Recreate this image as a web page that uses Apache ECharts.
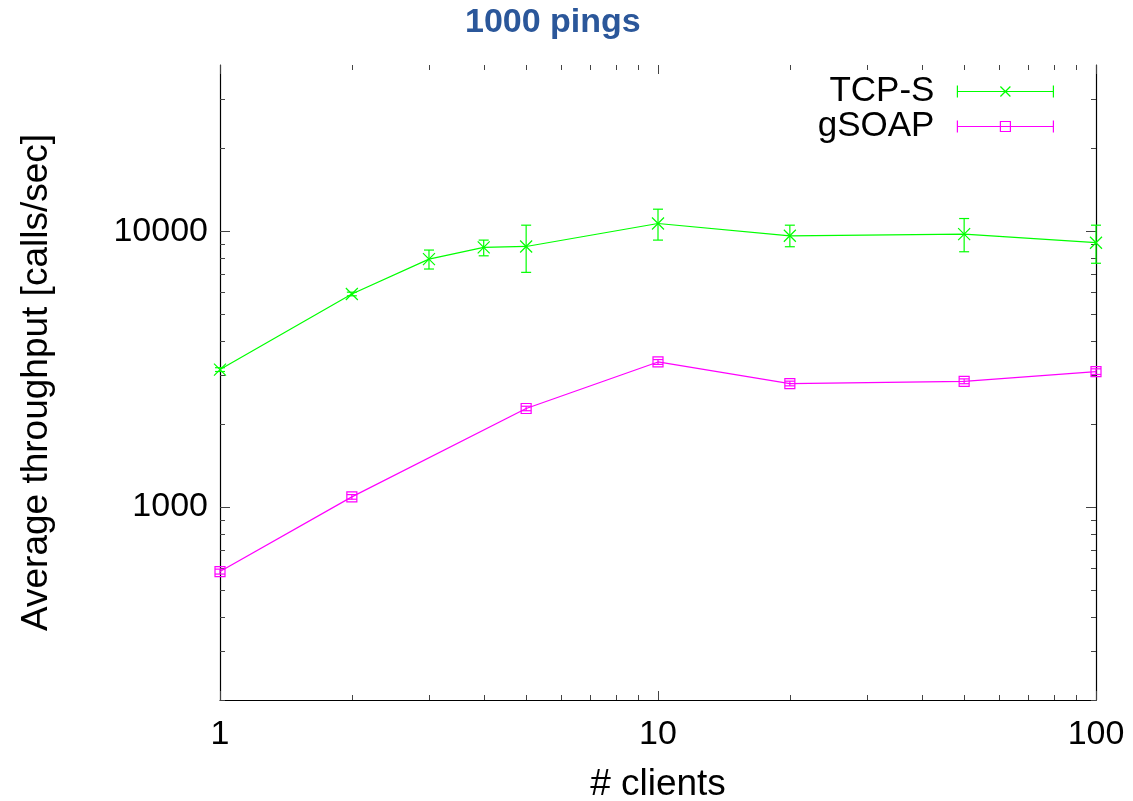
<!DOCTYPE html>
<html><head><meta charset="utf-8">
<script src="https://cdn.jsdelivr.net/npm/echarts@6/dist/echarts.min.js"></script>
<style>html,body{margin:0;padding:0;background:#fff}#c{width:1133px;height:801px}</style>
</head><body><div id="c"></div>
<script>
// ---- data ----
const clientsTcp = [1, 2, 3, 4, 5, 10, 20, 50, 100];
const tcpMean = [3150, 5920, 7920, 8730, 8800, 10660, 9620, 9750, 9080];
const tcpLow  = [3100, 5830, 7290, 8140, 7090, 9280, 8780, 8420, 7650];
const tcpHigh = [3200, 6010, 8540, 9280, 10510, 12010, 10510, 11110, 10510];
const clientsSoap = [1, 2, 5, 10, 20, 50, 100];
const soapMean = [584, 1089, 2277, 3357, 2804, 2857, 3096];
const soapLow  = [572, 1068, 2235, 3290, 2750, 2800, 3025];
const soapHigh = [596, 1110, 2320, 3425, 2860, 2915, 3170];
const xMajorTicks = [1, 10, 100];
const xMinorTicks = [2, 3, 4, 5, 6, 7, 8, 9, 20, 30, 40, 50, 60, 70, 80, 90];
const yMajorTicks = [1000, 10000];
const yMinorTicks = [200, 300, 400, 500, 600, 700, 800, 900, 2000, 3000, 4000, 5000, 6000, 7000, 8000, 9000, 20000, 30000];
const seriesNames = ['TCP-S', 'gSOAP'];

const FONT = "'Liberation Sans', Arial, sans-serif";
const GREEN = '#00ff00', MAGENTA = '#ff00ff';
const X_MIN = 1, X_MAX = 100, Y_MIN = 200, Y_MAX = 40000;

const tickData = [];
yMajorTicks.forEach(v => tickData.push([X_MIN, v, 0]));
yMinorTicks.forEach(v => tickData.push([X_MIN, v, 1]));
xMajorTicks.forEach(v => tickData.push([v, 1000, 2]));
xMinorTicks.forEach(v => tickData.push([v, 1000, 3]));

function zip(xs, a, b, c) { return xs.map((x, i) => c ? [x, a[i], b[i], c[i]] : [x, a[i]]); }

function errRender(color) {
  return function (params, api) {
    const x = api.value(0);
    const lo = api.coord([x, api.value(1)]);
    const hi = api.coord([x, api.value(2)]);
    const w = 5;
    const st = { stroke: color, lineWidth: 1.2 };
    return { type: 'group', children: [
      { type: 'line', shape: { x1: lo[0], y1: lo[1], x2: hi[0], y2: hi[1] }, style: st },
      { type: 'line', shape: { x1: lo[0] - w, y1: lo[1], x2: lo[0] + w, y2: lo[1] }, style: st },
      { type: 'line', shape: { x1: hi[0] - w, y1: hi[1], x2: hi[0] + w, y2: hi[1] }, style: st }
    ]};
  };
}

function tickRender(params, api) {
  const cs = params.coordSys;
  const kind = api.value(2);
  const st = { stroke: '#444', lineWidth: 1 };
  if (kind < 2) {
    const y = Math.round(api.coord([X_MIN, api.value(1)])[1]) + 0.5;
    const len = kind === 0 ? 10 : 5;
    return { type: 'group', children: [
      { type: 'line', shape: { x1: cs.x, y1: y, x2: cs.x + len, y2: y }, style: st },
      { type: 'line', shape: { x1: cs.x + cs.width - len, y1: y, x2: cs.x + cs.width, y2: y }, style: st }
    ]};
  } else {
    const x = Math.round(api.coord([api.value(0), 1000])[0]) + 0.5;
    const len = kind === 2 ? 9 : 5;
    return { type: 'group', children: [
      { type: 'line', shape: { x1: x, y1: cs.y + cs.height, x2: x, y2: cs.y + cs.height - len }, style: st },
      { type: 'line', shape: { x1: x, y1: cs.y, x2: x, y2: cs.y + len }, style: st }
    ]};
  }
}

function isPow10(v) { const l = Math.log10(v); return Math.abs(l - Math.round(l)) < 1e-6; }

const chart = echarts.init(document.getElementById('c'), null, { renderer: 'canvas' });
chart.setOption({
  backgroundColor: '#fff',
  animation: false,
  textStyle: { fontFamily: FONT },
  title: {
    text: '1000 pings', left: 465, top: 6, padding: 0,
    textStyle: { fontFamily: FONT, fontSize: 34, fontWeight: 'bold', color: '#2b579a' }
  },
  legend: {
    orient: 'vertical', right: 79, top: 74, padding: 0, itemGap: 0, align: 'right',
    itemWidth: 96, itemHeight: 12,
    textStyle: { fontFamily: FONT, fontSize: 35, color: '#000', lineHeight: 34, padding: [0, 18, 0, 0] },
    data: [
      { name: seriesNames[0], icon: 'path://M0,6L96,6M0,0L0,12M96,0L96,12M43,1L53,11M53,1L43,11',
        itemStyle: { color: 'rgba(0,0,0,0)', borderColor: GREEN, borderWidth: 1.2 } },
      { name: seriesNames[1], icon: 'path://M0,6L96,6M0,0L0,12M96,0L96,12M43,1L53,1L53,11L43,11Z',
        itemStyle: { color: 'rgba(0,0,0,0)', borderColor: MAGENTA, borderWidth: 1.2 } }
    ]
  },
  grid: { left: 220, right: 37, top: 65, bottom: 101, containLabel: false, outerBoundsMode: 'none' },
  xAxis: {
    type: 'log', logBase: 10, min: X_MIN, max: X_MAX,
    name: '# clients', nameLocation: 'middle', nameGap: 66,
    nameTextStyle: { fontFamily: FONT, fontSize: 37, color: '#000' },
    axisLine: { show: true, lineStyle: { color: '#000', width: 1.2 } },
    axisTick: { show: false }, splitLine: { show: false }, minorTick: { show: false },
    axisLabel: { fontFamily: FONT, fontSize: 34, color: '#000', margin: 18,
      formatter: v => isPow10(v) ? String(Math.round(v)) : '' }
  },
  yAxis: [{
    type: 'log', logBase: 10, min: Y_MIN, max: Y_MAX,
    name: 'Average throughput [calls/sec]', nameLocation: 'middle', nameGap: 165, nameRotate: 90,
    nameTextStyle: { fontFamily: FONT, fontSize: 37, color: '#000' },
    axisLine: { show: true, lineStyle: { color: '#000', width: 1.2 } },
    axisTick: { show: false }, splitLine: { show: false }, minorTick: { show: false },
    axisLabel: { fontFamily: FONT, fontSize: 34, color: '#000', margin: 12,
      showMinLabel: false, showMaxLabel: false,
      formatter: v => isPow10(v) ? String(Math.round(v)) : '' }
  }, {
    type: 'log', logBase: 10, min: Y_MIN, max: Y_MAX, position: 'right',
    axisLine: { show: true, lineStyle: { color: '#000', width: 1.2 } },
    axisTick: { show: false }, axisLabel: { show: false }, splitLine: { show: false }
  }],
  series: [
    { type: 'custom', name: 'ticks', renderItem: tickRender, data: tickData,
      encode: { x: 0, y: 1 }, silent: true, z: 1, clip: false },
    { type: 'custom', name: seriesNames[0], renderItem: errRender(GREEN),
      data: zip(clientsTcp, tcpLow, tcpHigh, tcpMean), encode: { x: 0, y: [1, 2] }, z: 2, clip: false,
      itemStyle: { color: GREEN } },
    { type: 'custom', name: seriesNames[1], renderItem: errRender(MAGENTA),
      data: zip(clientsSoap, soapLow, soapHigh, soapMean), encode: { x: 0, y: [1, 2] }, z: 2, clip: false,
      itemStyle: { color: MAGENTA } },
    { type: 'line', name: seriesNames[0], data: zip(clientsTcp, tcpMean), z: 3,
      symbol: 'path://M0,0L10,10M10,0L0,10', symbolSize: 12, showAllSymbol: true,
      lineStyle: { color: GREEN, width: 1.2 },
      itemStyle: { color: 'rgba(0,0,0,0)', borderColor: GREEN, borderWidth: 1.2 } },
    { type: 'line', name: seriesNames[1], data: zip(clientsSoap, soapMean), z: 3,
      symbol: 'path://M0,0L10,0L10,10L0,10Z', symbolSize: 10, showAllSymbol: true,
      lineStyle: { color: MAGENTA, width: 1.2 },
      itemStyle: { color: 'rgba(0,0,0,0)', borderColor: MAGENTA, borderWidth: 1.2 } }
  ]
});
</script></body></html>
